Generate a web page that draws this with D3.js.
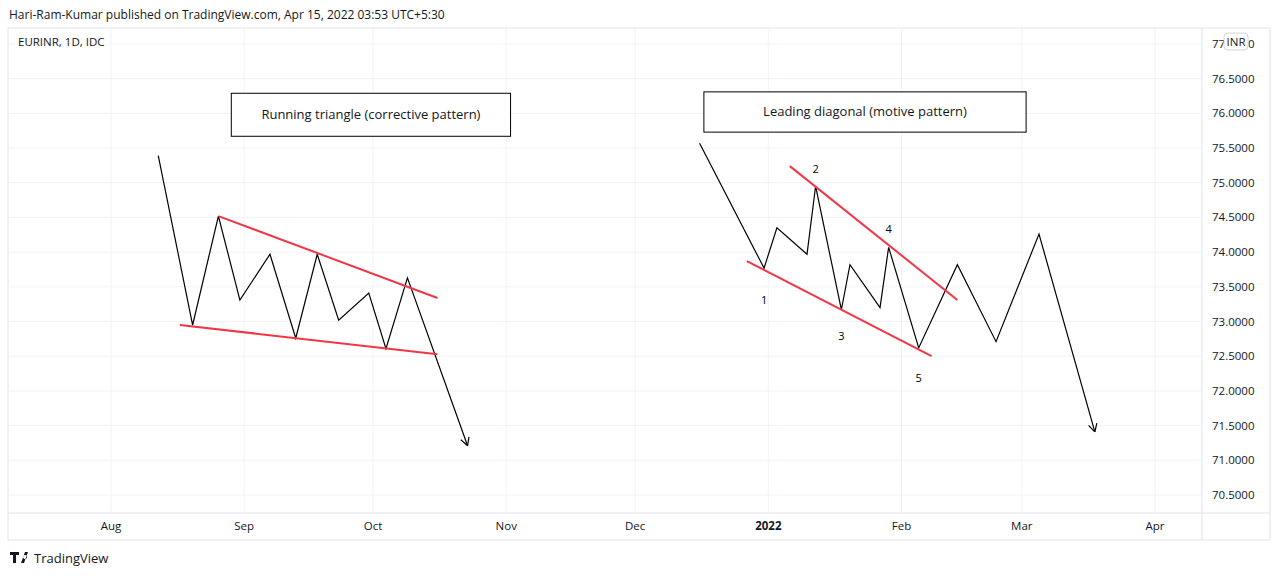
<!DOCTYPE html>
<html><head><meta charset="utf-8">
<script src="https://cdn.jsdelivr.net/npm/d3@7"></script>
<style>body{margin:0;background:#fff;font-family:"Open Sans",Roboto,sans-serif}</style>
</head><body><svg id="c" width="1280" height="576"></svg>
<script>
const leftWave=[["2021-08-12",75.39],["2021-08-20",72.95],["2021-08-26",74.52],["2021-08-31",73.31],["2021-09-07",73.97],["2021-09-13",72.76],["2021-09-18",73.97],["2021-09-23",73.02],["2021-09-30",73.41],["2021-10-04",72.61],["2021-10-09",73.63],["2021-10-23",71.21]];
const rightWave=[["2021-12-16",75.57],["2021-12-31",73.77],["2022-01-03",74.35],["2022-01-10",73.97],["2022-01-12",74.95],["2022-01-18",73.17],["2022-01-20",73.82],["2022-01-27",73.20],["2022-01-29",74.07],["2022-02-05",72.62],["2022-02-14",73.82],["2022-02-23",72.71],["2022-03-05",74.26],["2022-03-18",71.41]];
const redLines=[[["2021-08-26",74.52],["2021-10-16",73.34]],[["2021-08-17",72.95],["2021-10-16",72.53]],[["2022-01-06",75.24],["2022-02-14",73.31]],[["2021-12-27",73.87],["2022-02-08",72.50]]];
const waveLabels=[["1","2021-12-31",73.31],["2","2022-01-12",75.20],["3","2022-01-18",72.79],["4","2022-01-29",74.33],["5","2022-02-05",72.19]];
const boxes=[["Running triangle (corrective pattern)","2021-08-29","2021-11-02",76.29,75.67],["Leading diagonal (motive pattern)","2021-12-17","2022-03-02",76.31,75.73]];
const monthTicks=["2021-08-01","2021-09-01","2021-10-01","2021-11-01","2021-12-01","2022-01-01","2022-02-01","2022-03-01","2022-04-01"];
const monthLabels=["Aug","Sep","Oct","Nov","Dec","2022","Feb","Mar","Apr"];
const priceTicks=[70.5,71,71.5,72,72.5,73,73.5,74,74.5,75,75.5,76,76.5,77];

const P=d3.timeParse("%Y-%m-%d");
const svg=d3.select("#c");
const L=8,R=1202,T=28,B=513;
const x=d3.scaleTime().domain([P("2021-08-01"),P("2022-04-01")]).range([111,1155]);
const y=d3.scaleLinear().domain([70.5,77]).range([495,44]);
const g="#f0f3fa";
svg.append("text").attr("x",9).attr("y",19).attr("font-size",12).attr("fill","#131722").text("Hari-Ram-Kumar published on TradingView.com, Apr 15, 2022 03:53 UTC+5:30");
svg.append("rect").attr("x",L).attr("y",T).attr("width",1270-L).attr("height",B-T).attr("fill","none").attr("stroke","#e0e3eb");
svg.append("line").attr("x1",R).attr("x2",R).attr("y1",T).attr("y2",540).attr("stroke","#e0e3eb");
svg.append("line").attr("x1",L).attr("x2",L).attr("y1",B).attr("y2",540).attr("stroke","#e0e3eb");
svg.append("line").attr("x1",L).attr("x2",1270).attr("y1",540).attr("y2",540).attr("stroke","#e0e3eb");
svg.append("line").attr("x1",1270).attr("x2",1270).attr("y1",B).attr("y2",540).attr("stroke","#e0e3eb");
monthTicks.forEach((d,i)=>{const xx=x(P(d));
 svg.append("line").attr("x1",xx).attr("x2",xx).attr("y1",T+1).attr("y2",B).attr("stroke",g);
 svg.append("text").attr("x",xx).attr("y",530).attr("text-anchor","middle").attr("font-size",11.5).attr("fill","#131722").attr("font-weight",monthLabels[i]=="2022"?"bold":"normal").text(monthLabels[i]);});
priceTicks.forEach(p=>{const yy=y(p);
 svg.append("line").attr("x1",L+1).attr("x2",R).attr("y1",yy).attr("y2",yy).attr("stroke",g);
 svg.append("text").attr("x",1212).attr("y",yy+4).attr("font-size",11.5).attr("fill","#131722").text(p.toFixed(4));});
svg.append("rect").attr("x",1224).attr("y",33).attr("width",24).attr("height",17).attr("rx",4).attr("fill","#fff").attr("stroke","#d1d4dc");
svg.append("text").attr("x",1236).attr("y",46).attr("text-anchor","middle").attr("font-size",11.5).attr("fill","#131722").text("INR");
svg.append("text").attr("x",18).attr("y",46).attr("font-size",11.5).attr("fill","#131722").text("EURINR, 1D, IDC");
const line=d3.line().x(d=>x(P(d[0]))).y(d=>y(d[1]));
[leftWave,rightWave].forEach(w=>{
 svg.append("path").attr("d",line(w)).attr("fill","none").attr("stroke","#000").attr("stroke-width",1.2);
 const a=w[w.length-2],b=w[w.length-1];const x1=x(P(a[0])),y1=y(a[1]),x2=x(P(b[0])),y2=y(b[1]);
 const ang=Math.atan2(y2-y1,x2-x1),s=9;
 [0.5,-0.5].forEach(o=>svg.append("line").attr("x1",x2).attr("y1",y2).attr("x2",x2-s*Math.cos(ang+o)).attr("y2",y2-s*Math.sin(ang+o)).attr("stroke","#000").attr("stroke-width",1.2));
});
redLines.forEach(l=>svg.append("path").attr("d",line(l)).attr("stroke","#f23645").attr("stroke-width",2).attr("fill","none"));
waveLabels.forEach(d=>svg.append("text").attr("x",x(P(d[1]))).attr("y",y(d[2])+4).attr("text-anchor","middle").attr("font-size",11).attr("fill","#000").text(d[0]));
boxes.forEach(b=>{const x1=x(P(b[1])),x2=x(P(b[2])),y1=y(b[3]),y2=y(b[4]);
 svg.append("rect").attr("x",x1).attr("y",y1).attr("width",x2-x1).attr("height",y2-y1).attr("fill","#fff").attr("stroke","#000");
 svg.append("text").attr("x",(x1+x2)/2).attr("y",(y1+y2)/2+4).attr("text-anchor","middle").attr("font-size",13).attr("fill","#131722").text(b[0]);});
svg.append("text").attr("x",34).attr("y",563).attr("font-size",13).attr("fill","#131722").text("TradingView");
svg.append("path").attr("d","M10 552h9v3h-3v8h-3v-8h-3zM21 563l4-11h3l-4 11z M25 555a2 2 0 1 0 0.1 0").attr("fill","#131722");
</script></body></html>
